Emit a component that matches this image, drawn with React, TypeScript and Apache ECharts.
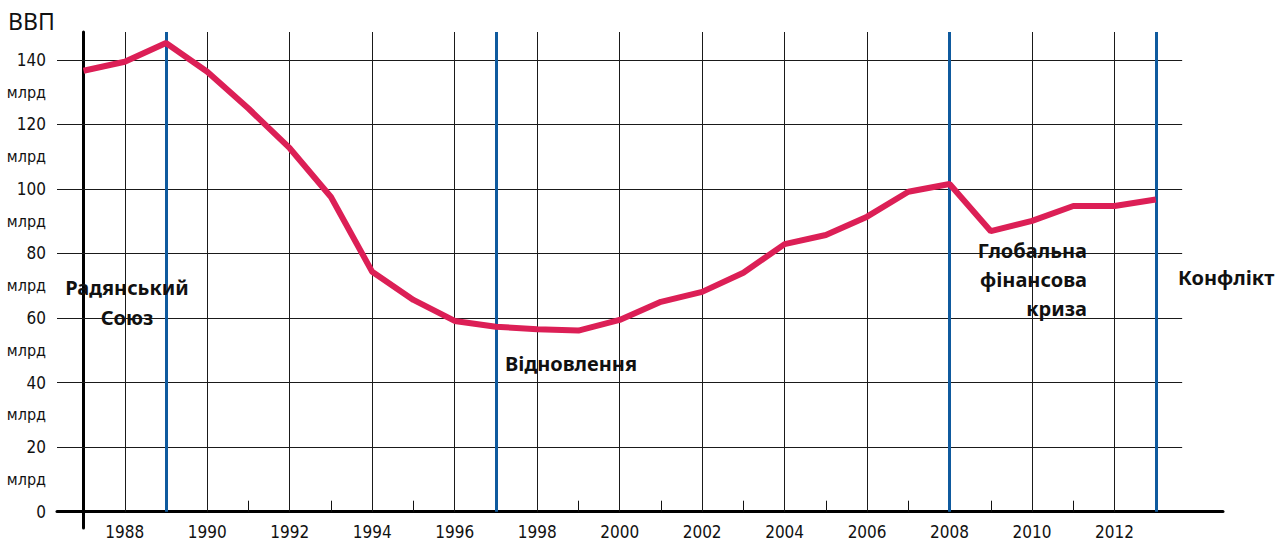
import React, { useEffect, useRef } from 'react';
import * as echarts from 'echarts';

// ---- data ----
const BASE_YEAR = 1987;
const years = [
  1987, 1988, 1989, 1990, 1991, 1992, 1993, 1994, 1995, 1996, 1997, 1998, 1999, 2000,
  2001, 2002, 2003, 2004, 2005, 2006, 2007, 2008, 2009, 2010, 2011, 2012, 2013,
];
const gdp = [
  136.6, 139.4, 145.2, 136.3, 124.9, 112.6, 97.5, 74.3, 65.6, 59.1, 57.3, 56.5, 56.1, 59.4,
  65.0, 68.1, 74.0, 82.9, 85.7, 91.4, 99.1, 101.5, 86.9, 90.1, 94.7, 94.7, 96.7,
];
const eventYears = [1989, 1997, 2008, 2013];
const yTicks = [0, 20, 40, 60, 80, 100, 120, 140];
const yUnitPositions = [10, 30, 50, 70, 90, 110, 130];
const labelYears = [1988, 1990, 1992, 1994, 1996, 1998, 2000, 2002, 2004, 2006, 2008, 2010, 2012];
const minorTickYears = [1989, 1991, 1993, 1995, 1997, 1999, 2001, 2003, 2005, 2007, 2009, 2011, 2013];
const gridYears = labelYears;
const yUnit = 'млрд';

// ---- axis ranges (layout) ----
const X_MIN = -0.643;
const X_MAX = 27.63;
const H_GRID_END = 26.64;
const Y_MIN = -5.05;
const Y_MAX = 148.6;

const narrow = '"Liberation Sans Narrow", "DejaVu Sans Condensed", sans-serif';
const annFont = 'bold 20px "Noto Sans", "Open Sans", sans-serif';

function annotation(text: string, x: number, y: number, align: string) {
  return {
    type: 'text',
    x,
    y,
    z: 100,
    silent: true,
    style: {
      text,
      font: annFont,
      fill: '#111',
      textAlign: align,
      align,
      textVerticalAlign: 'middle',
      verticalAlign: 'middle',
    },
  };
}

export default function App() {
  const ref = useRef<HTMLDivElement>(null);
  useEffect(() => {
    if (!ref.current) return;
    const chart = echarts.init(ref.current, null, { renderer: 'svg' });
    const off = (y: number) => y - BASE_YEAR;

    const hLines = yTicks
      .filter((v) => v > 0)
      .map((v) => [{ coord: [X_MIN, v] }, { coord: [H_GRID_END, v] }]);
    const vLines = gridYears.map((y) => [{ coord: [off(y), 0] }, { coord: [off(y), Y_MAX] }]);
    const eLines = eventYears.map((y) => [{ coord: [off(y), 0] }, { coord: [off(y), Y_MAX] }]);

    const labelStyle = { fontFamily: narrow, color: '#111' };

    chart.setOption({
      animation: false,
      title: {
        text: 'ВВП',
        left: 3,
        top: 4,
        textStyle: { fontFamily: '"Noto Sans", sans-serif', fontSize: 23, fontWeight: 'normal', color: '#111' },
      },
      grid: { left: 57, right: 54, top: 32, bottom: 14, containLabel: false, outerBoundsMode: 'none' },
      xAxis: {
        type: 'value',
        min: X_MIN,
        max: X_MAX,
        axisLine: { show: true, onZero: true, lineStyle: { color: '#000', width: 3 } },
        axisTick: {
          show: true,
          inside: true,
          length: 11,
          customValues: minorTickYears.map(off),
          lineStyle: { color: '#111', width: 1 },
        },
        axisLabel: {
          customValues: labelYears.map(off),
          formatter: (v: number) => String(Math.round(v) + BASE_YEAR),
          margin: 4,
          verticalAlign: 'middle',
          showMinLabel: true,
          showMaxLabel: true,
          fontSize: 17,
          ...labelStyle,
        },
        splitLine: { show: false },
      },
      yAxis: [
        {
          type: 'value',
          min: Y_MIN,
          max: Y_MAX,
          axisLine: { show: true, onZero: true, lineStyle: { color: '#000', width: 3 } },
          axisTick: { show: false },
          axisLabel: {
            customValues: yTicks,
            margin: 11,
            align: 'right',
            showMinLabel: true,
            showMaxLabel: true,
            fontSize: 17,
            ...labelStyle,
          },
          splitLine: { show: false },
        },
        {
          type: 'value',
          min: Y_MIN,
          max: Y_MAX,
          position: 'left',
          axisLine: { show: false },
          axisTick: { show: false },
          axisLabel: {
            customValues: yUnitPositions,
            formatter: () => yUnit,
            margin: 11,
            align: 'right',
            showMinLabel: true,
            showMaxLabel: true,
            fontSize: 16,
            ...labelStyle,
          },
          splitLine: { show: false },
        },
      ],
      series: [
        {
          type: 'line',
          data: [],
          silent: true,
          z: 1,
          markLine: {
            silent: true,
            z: 1,
            symbol: ['none', 'none'],
            label: { show: false },
            emphasis: { disabled: true },
            lineStyle: { color: '#1a1a1a', width: 1, type: 'solid' },
            data: [...hLines, ...vLines],
          },
        },
        {
          type: 'line',
          data: [],
          silent: true,
          z: 2,
          markLine: {
            silent: true,
            z: 2,
            symbol: ['none', 'none'],
            label: { show: false },
            emphasis: { disabled: true },
            lineStyle: { color: '#0f5a9e', width: 3, type: 'solid' },
            data: eLines,
          },
        },
        {
          type: 'line',
          z: 10,
          silent: true,
          symbol: 'none',
          data: years.map((y, i) => [off(y), gdp[i]]),
          lineStyle: { color: '#dc1f56', width: 6 },
        },
      ],
      graphic: [
        annotation('Радянський', 127, 287, 'center'),
        annotation('Союз', 127, 317, 'center'),
        annotation('Відновлення', 505, 363, 'left'),
        annotation('Глобальна', 1087, 250, 'right'),
        annotation('фінансова', 1087, 279, 'right'),
        annotation('криза', 1087, 308, 'right'),
        annotation('Конфлікт', 1178, 277, 'left'),
      ],
    });
    return () => chart.dispose();
  }, []);
  return (
    <div
      ref={ref}
      style={{ position: 'fixed', left: 0, top: 0, width: 1277, height: 542, background: '#fff' }}
    />
  );
}
